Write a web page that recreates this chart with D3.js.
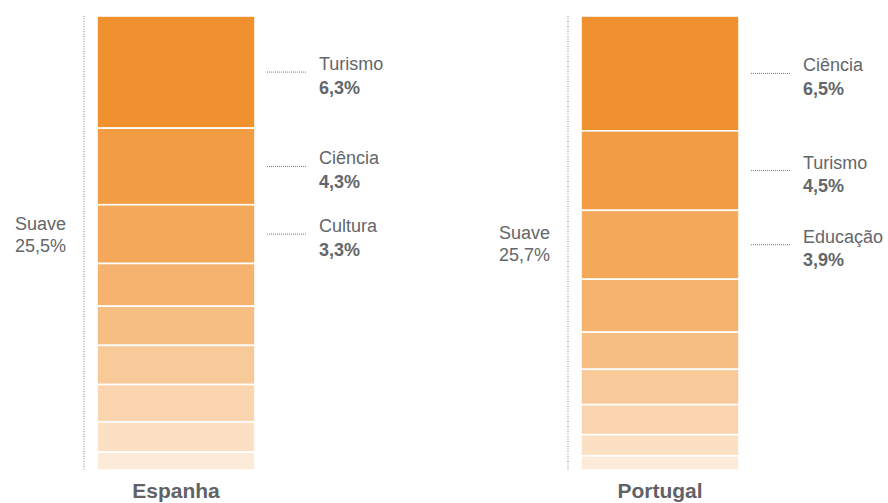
<!DOCTYPE html>
<html>
<head>
<meta charset="utf-8">
<script src="https://cdn.jsdelivr.net/npm/d3@7"></script>
<style>
  body { margin: 0; background: #fff; }
  text { font-family: "Liberation Sans", Arial, Helvetica, sans-serif; }
</style>
</head>
<body>
<script>
// data
const countries = ["Espanha", "Portugal"];
const espanhaValues = [6.3, 4.3, 3.3, 2.4, 2.2, 2.2, 2.1, 1.7, 1.0];
const portugalValues = [6.5, 4.5, 3.9, 3.0, 2.1, 2.0, 1.7, 1.2, 0.8];
const espanhaLabels = ["Turismo", "Ciência", "Cultura"];
const portugalLabels = ["Ciência", "Turismo", "Educação"];
const groupLabel = "Suave";
const totals = [25.5, 25.7];

const width = 888, height = 503;
const barTop = 16, barBottom = 470;

const fmt = v => d3.format(".1f")(v).replace(".", ",") + "%";

const svg = d3.select("body").append("svg")
    .attr("width", width)
    .attr("height", height);

const x = d3.scalePoint().domain(countries).range([97, 581]);
const barW = 158;

const color = d3.scaleLinear()
    .domain([0, 8])
    .range(["#f0912f", "#fdebd9"])
    .interpolate(d3.interpolateRgb);

const series = [
    { name: countries[0], values: espanhaValues, labels: espanhaLabels, total: totals[0], suaveY: 230 },
    { name: countries[1], values: portugalValues, labels: portugalLabels, total: totals[1], suaveY: 239 }
];

series.forEach(s => {
    const x0 = x(s.name);
    const y = d3.scaleLinear().domain([0, d3.sum(s.values)]).range([barTop, barBottom]);
    const stacked = [];
    let acc = 0;
    s.values.forEach((v, i) => { stacked.push({ v, i, y0: acc, y1: acc + v }); acc += v; });

    const g = svg.append("g");

    g.selectAll("rect")
        .data(stacked)
        .enter().append("rect")
        .attr("x", x0)
        .attr("y", d => y(d.y0))
        .attr("width", barW)
        .attr("height", d => y(d.y1) - y(d.y0))
        .attr("fill", d => color(d.i))
        .attr("stroke", "#fff")
        .attr("stroke-width", 1.6);

    // dotted bracket on the left
    g.append("line")
        .attr("x1", x0 - 13).attr("x2", x0 - 13)
        .attr("y1", barTop).attr("y2", barBottom)
        .attr("stroke", "#9a9a9a")
        .attr("stroke-width", 1.2)
        .attr("stroke-dasharray", "1,1.5");

    g.append("text")
        .attr("x", x0 - 31).attr("y", s.suaveY)
        .attr("text-anchor", "end")
        .attr("font-size", 18)
        .attr("fill", "#63666a")
        .text(groupLabel);
    g.append("text")
        .attr("x", x0 - 31).attr("y", s.suaveY + 22)
        .attr("text-anchor", "end")
        .attr("font-size", 18)
        .attr("fill", "#63666a")
        .text(fmt(s.total));

    // labelled segments
    const labelled = stacked.slice(0, s.labels.length);
    const lx = x0 + barW + 12;
    const mid = d => (y(d.y0) + y(d.y1)) / 2;

    g.selectAll(".leader")
        .data(labelled)
        .enter().append("line")
        .attr("class", "leader")
        .attr("x1", lx).attr("x2", lx + 40)
        .attr("y1", mid)
        .attr("y2", mid)
        .attr("stroke", "#777")
        .attr("stroke-width", 1)
        .attr("stroke-dasharray", "1,1");

    g.selectAll(".name")
        .data(labelled)
        .enter().append("text")
        .attr("class", "name")
        .attr("x", lx + 52)
        .attr("y", d => mid(d) - 2)
        .attr("font-size", 18)
        .attr("fill", "#63666a")
        .text(d => s.labels[d.i]);

    g.selectAll(".val")
        .data(labelled)
        .enter().append("text")
        .attr("class", "val")
        .attr("x", lx + 52)
        .attr("y", d => mid(d) + 21.5)
        .attr("font-size", 18)
        .attr("font-weight", "bold")
        .attr("fill", "#63666a")
        .text(d => fmt(d.v));

    g.append("text")
        .attr("x", x0 + barW / 2).attr("y", 498)
        .attr("text-anchor", "middle")
        .attr("font-size", 21)
        .attr("font-weight", "bold")
        .attr("fill", "#5f6266")
        .text(s.name);
});
</script>
</body>
</html>
